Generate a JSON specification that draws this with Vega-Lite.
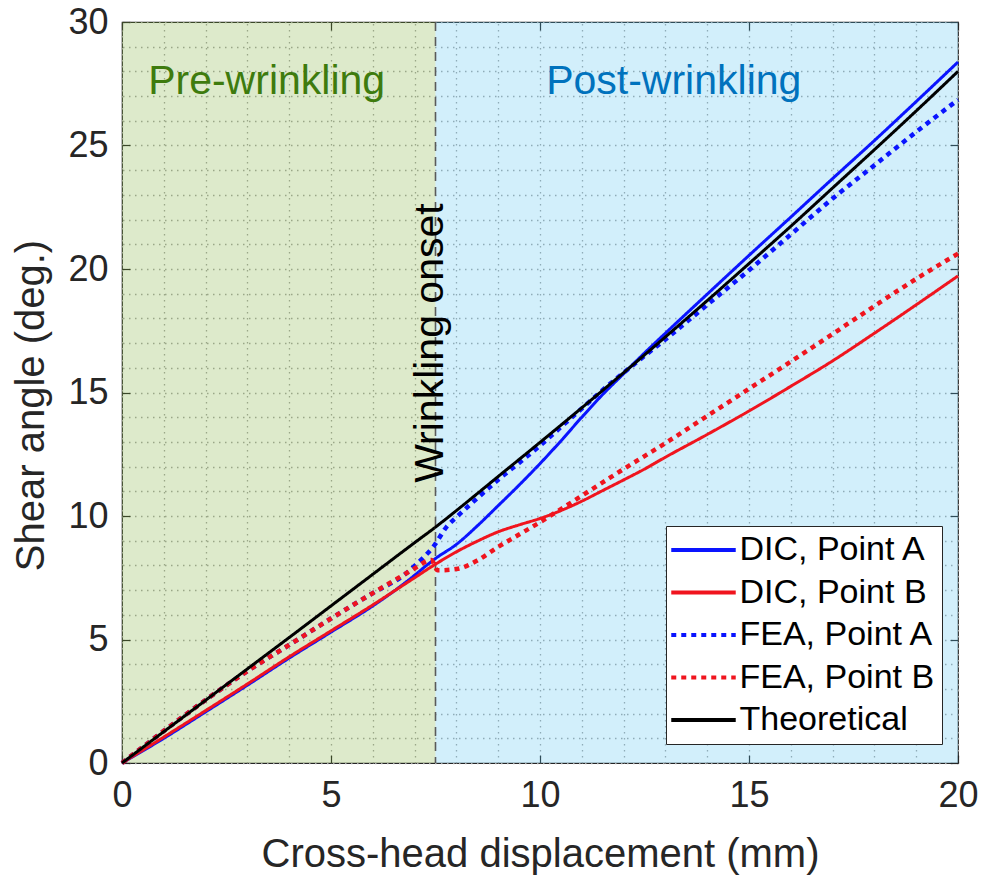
{
  "$schema": "https://vega.github.io/schema/vega-lite/v6.json",
  "autosize": {"type": "none"},
  "width": 836,
  "height": 741,
  "padding": {"left": 122, "top": 22, "right": 27, "bottom": 117},
  "config": {
    "view": {"stroke": "#262626", "strokeWidth": 1.2},
    "font": "Liberation Sans"
  },
  "datasets": {
    "regions": [
      {"region": "pre", "x_start": 0, "x_end": 7.5},
      {"region": "post", "x_start": 7.5, "x_end": 20}
    ],
    "notes": [
      {"kind": "pre", "label": "Pre-wrinkling", "x": 3.46, "y": 27.1},
      {"kind": "post", "label": "Post-wrinkling", "x": 13.2, "y": 27.1},
      {"kind": "onset", "label": "Wrinkling onset", "x": 7.68, "y": 17}
    ],
    "curves": [
      {"series": "DIC, Point A", "x": 0, "y": 0},
      {"series": "DIC, Point A", "x": 1, "y": 1.0},
      {"series": "DIC, Point A", "x": 2, "y": 2.07},
      {"series": "DIC, Point A", "x": 3, "y": 3.15},
      {"series": "DIC, Point A", "x": 4, "y": 4.25},
      {"series": "DIC, Point A", "x": 5, "y": 5.3},
      {"series": "DIC, Point A", "x": 6, "y": 6.36},
      {"series": "DIC, Point A", "x": 6.5, "y": 6.95},
      {"series": "DIC, Point A", "x": 7, "y": 7.6},
      {"series": "DIC, Point A", "x": 7.3, "y": 8.02},
      {"series": "DIC, Point A", "x": 7.5, "y": 8.28},
      {"series": "DIC, Point A", "x": 8, "y": 8.85},
      {"series": "DIC, Point A", "x": 8.5, "y": 9.6},
      {"series": "DIC, Point A", "x": 9, "y": 10.42},
      {"series": "DIC, Point A", "x": 9.5, "y": 11.25},
      {"series": "DIC, Point A", "x": 10, "y": 12.12},
      {"series": "DIC, Point A", "x": 10.5, "y": 13.04},
      {"series": "DIC, Point A", "x": 11, "y": 14.0},
      {"series": "DIC, Point A", "x": 11.5, "y": 14.92},
      {"series": "DIC, Point A", "x": 12, "y": 15.76},
      {"series": "DIC, Point A", "x": 12.5, "y": 16.6},
      {"series": "DIC, Point A", "x": 13, "y": 17.4},
      {"series": "DIC, Point A", "x": 14, "y": 18.98},
      {"series": "DIC, Point A", "x": 15, "y": 20.55},
      {"series": "DIC, Point A", "x": 16, "y": 22.1},
      {"series": "DIC, Point A", "x": 17, "y": 23.66},
      {"series": "DIC, Point A", "x": 18, "y": 25.2},
      {"series": "DIC, Point A", "x": 19, "y": 26.78},
      {"series": "DIC, Point A", "x": 20, "y": 28.38},

      {"series": "DIC, Point B", "x": 0, "y": 0},
      {"series": "DIC, Point B", "x": 1, "y": 1.05},
      {"series": "DIC, Point B", "x": 2, "y": 2.12},
      {"series": "DIC, Point B", "x": 3, "y": 3.2},
      {"series": "DIC, Point B", "x": 4, "y": 4.3},
      {"series": "DIC, Point B", "x": 5, "y": 5.35},
      {"series": "DIC, Point B", "x": 6, "y": 6.4},
      {"series": "DIC, Point B", "x": 6.5, "y": 6.95},
      {"series": "DIC, Point B", "x": 7, "y": 7.5},
      {"series": "DIC, Point B", "x": 7.5, "y": 8.05},
      {"series": "DIC, Point B", "x": 8, "y": 8.55},
      {"series": "DIC, Point B", "x": 8.5, "y": 8.98},
      {"series": "DIC, Point B", "x": 9, "y": 9.36},
      {"series": "DIC, Point B", "x": 9.5, "y": 9.64},
      {"series": "DIC, Point B", "x": 10, "y": 9.9},
      {"series": "DIC, Point B", "x": 10.5, "y": 10.22},
      {"series": "DIC, Point B", "x": 11, "y": 10.6},
      {"series": "DIC, Point B", "x": 11.5, "y": 11.03},
      {"series": "DIC, Point B", "x": 12, "y": 11.46},
      {"series": "DIC, Point B", "x": 12.5, "y": 11.9},
      {"series": "DIC, Point B", "x": 13, "y": 12.38},
      {"series": "DIC, Point B", "x": 14, "y": 13.3},
      {"series": "DIC, Point B", "x": 15, "y": 14.25},
      {"series": "DIC, Point B", "x": 16, "y": 15.25},
      {"series": "DIC, Point B", "x": 17, "y": 16.28},
      {"series": "DIC, Point B", "x": 18, "y": 17.4},
      {"series": "DIC, Point B", "x": 19, "y": 18.55},
      {"series": "DIC, Point B", "x": 20, "y": 19.72},

      {"series": "FEA, Point A", "x": 0, "y": 0},
      {"series": "FEA, Point A", "x": 0.5, "y": 0.65},
      {"series": "FEA, Point A", "x": 1, "y": 1.3},
      {"series": "FEA, Point A", "x": 1.5, "y": 1.93},
      {"series": "FEA, Point A", "x": 2, "y": 2.55},
      {"series": "FEA, Point A", "x": 3, "y": 3.72},
      {"series": "FEA, Point A", "x": 4, "y": 4.78},
      {"series": "FEA, Point A", "x": 5, "y": 5.85},
      {"series": "FEA, Point A", "x": 6, "y": 6.88},
      {"series": "FEA, Point A", "x": 6.8, "y": 7.68},
      {"series": "FEA, Point A", "x": 7, "y": 7.98},
      {"series": "FEA, Point A", "x": 7.2, "y": 8.3},
      {"series": "FEA, Point A", "x": 7.45, "y": 8.76},
      {"series": "FEA, Point A", "x": 7.77, "y": 9.57},
      {"series": "FEA, Point A", "x": 8, "y": 9.95},
      {"series": "FEA, Point A", "x": 8.5, "y": 10.72},
      {"series": "FEA, Point A", "x": 9, "y": 11.47},
      {"series": "FEA, Point A", "x": 9.5, "y": 12.15},
      {"series": "FEA, Point A", "x": 10, "y": 12.85},
      {"series": "FEA, Point A", "x": 10.5, "y": 13.6},
      {"series": "FEA, Point A", "x": 11, "y": 14.35},
      {"series": "FEA, Point A", "x": 11.5, "y": 15.1},
      {"series": "FEA, Point A", "x": 12, "y": 15.8},
      {"series": "FEA, Point A", "x": 12.5, "y": 16.48},
      {"series": "FEA, Point A", "x": 13, "y": 17.15},
      {"series": "FEA, Point A", "x": 14, "y": 18.55},
      {"series": "FEA, Point A", "x": 15, "y": 19.95},
      {"series": "FEA, Point A", "x": 16, "y": 21.4},
      {"series": "FEA, Point A", "x": 17, "y": 22.85},
      {"series": "FEA, Point A", "x": 18, "y": 24.2},
      {"series": "FEA, Point A", "x": 19, "y": 25.55},
      {"series": "FEA, Point A", "x": 20, "y": 26.85},

      {"series": "FEA, Point B", "x": 0, "y": 0},
      {"series": "FEA, Point B", "x": 0.5, "y": 0.65},
      {"series": "FEA, Point B", "x": 1, "y": 1.3},
      {"series": "FEA, Point B", "x": 1.5, "y": 1.93},
      {"series": "FEA, Point B", "x": 2, "y": 2.55},
      {"series": "FEA, Point B", "x": 3, "y": 3.72},
      {"series": "FEA, Point B", "x": 4, "y": 4.78},
      {"series": "FEA, Point B", "x": 5, "y": 5.85},
      {"series": "FEA, Point B", "x": 6, "y": 6.88},
      {"series": "FEA, Point B", "x": 6.8, "y": 7.68},
      {"series": "FEA, Point B", "x": 7, "y": 7.88},
      {"series": "FEA, Point B", "x": 7.4, "y": 8.22},
      {"series": "FEA, Point B", "x": 7.55, "y": 7.8},
      {"series": "FEA, Point B", "x": 8, "y": 7.85},
      {"series": "FEA, Point B", "x": 8.5, "y": 8.2},
      {"series": "FEA, Point B", "x": 9, "y": 8.75},
      {"series": "FEA, Point B", "x": 9.5, "y": 9.25},
      {"series": "FEA, Point B", "x": 10, "y": 9.75},
      {"series": "FEA, Point B", "x": 10.5, "y": 10.28},
      {"series": "FEA, Point B", "x": 11, "y": 10.82},
      {"series": "FEA, Point B", "x": 11.5, "y": 11.36},
      {"series": "FEA, Point B", "x": 12, "y": 11.9},
      {"series": "FEA, Point B", "x": 13, "y": 12.95},
      {"series": "FEA, Point B", "x": 14, "y": 14.05},
      {"series": "FEA, Point B", "x": 15, "y": 15.15},
      {"series": "FEA, Point B", "x": 16, "y": 16.25},
      {"series": "FEA, Point B", "x": 17, "y": 17.37},
      {"series": "FEA, Point B", "x": 18, "y": 18.5},
      {"series": "FEA, Point B", "x": 19, "y": 19.6},
      {"series": "FEA, Point B", "x": 20, "y": 20.62},

      {"series": "Theoretical", "x": 0, "y": 0},
      {"series": "Theoretical", "x": 1, "y": 1.27},
      {"series": "Theoretical", "x": 2, "y": 2.54},
      {"series": "Theoretical", "x": 3, "y": 3.81},
      {"series": "Theoretical", "x": 4, "y": 5.08},
      {"series": "Theoretical", "x": 5, "y": 6.36},
      {"series": "Theoretical", "x": 6, "y": 7.64},
      {"series": "Theoretical", "x": 7, "y": 8.92},
      {"series": "Theoretical", "x": 7.5, "y": 9.55},
      {"series": "Theoretical", "x": 8, "y": 10.22},
      {"series": "Theoretical", "x": 9, "y": 11.6},
      {"series": "Theoretical", "x": 10, "y": 12.98},
      {"series": "Theoretical", "x": 11, "y": 14.38},
      {"series": "Theoretical", "x": 12, "y": 15.8},
      {"series": "Theoretical", "x": 12.5, "y": 16.52},
      {"series": "Theoretical", "x": 13, "y": 17.25},
      {"series": "Theoretical", "x": 14, "y": 18.72},
      {"series": "Theoretical", "x": 15, "y": 20.22},
      {"series": "Theoretical", "x": 16, "y": 21.73},
      {"series": "Theoretical", "x": 17, "y": 23.28},
      {"series": "Theoretical", "x": 18, "y": 24.83},
      {"series": "Theoretical", "x": 19, "y": 26.4},
      {"series": "Theoretical", "x": 20, "y": 28.0}
    ]
  },
  "layer": [
    {
      "layer": [
        {
          "data": {"name": "regions"},
          "transform": [{"filter": "datum.region === 'pre'"}],
          "mark": {"type": "rect", "fill": "#77ac30", "opacity": 0.25},
          "encoding": {
            "x": {
              "field": "x_start", "type": "quantitative",
              "scale": {"domain": [0, 20], "nice": false, "zero": false},
              "title": "Cross-head displacement (mm)",
              "axis": {
                "orient": "bottom",
                "values": [0, 5, 10, 15, 20],
                "grid": false,
                "domain": false,
                "tickSize": -8, "tickColor": "#262626", "tickWidth": 1.2,
                "labelFont": "Liberation Sans", "labelFontSize": 36, "labelColor": "#262626",
                "labelPadding": 23, "labelFlush": false, "labelOverlap": false,
                "titleFont": "Liberation Sans", "titleFontSize": 40, "titleFontWeight": "normal",
                "titleColor": "#262626", "titlePadding": 21
              }
            },
            "x2": {"field": "x_end"},
            "y": {
              "datum": 0, "type": "quantitative",
              "scale": {"domain": [0, 30], "nice": false, "zero": false},
              "title": "Shear angle (deg.)",
              "axis": {
                "orient": "left",
                "values": [0, 5, 10, 15, 20, 25, 30],
                "grid": false,
                "domain": false,
                "tickSize": -8, "tickColor": "#262626", "tickWidth": 1.2,
                "labelFont": "Liberation Sans", "labelFontSize": 36, "labelColor": "#262626",
                "labelPadding": 22, "labelFlush": false, "labelOverlap": false,
                "titleFont": "Liberation Sans", "titleFontSize": 40, "titleFontWeight": "normal",
                "titleColor": "#262626", "titlePadding": 16, "titleY": 383
              }
            },
            "y2": {"datum": 30}
          }
        },
        {
          "data": {"name": "regions"},
          "transform": [{"filter": "datum.region === 'post'"}],
          "mark": {"type": "rect", "fill": "#4dbeee", "opacity": 0.25},
          "encoding": {
            "x": {"field": "x_start", "type": "quantitative", "title": "Cross-head displacement (mm)"},
            "x2": {"field": "x_end"},
            "y": {"datum": 0, "type": "quantitative", "title": "Shear angle (deg.)"},
            "y2": {"datum": 30}
          }
        },
        {
          "data": {"name": "regions"},
          "transform": [{"filter": "datum.region === 'pre'"}],
          "mark": {"type": "rule", "color": "#5a5a5a", "strokeWidth": 1.6, "strokeDash": [9, 6]},
          "encoding": {
            "x": {"field": "x_end", "type": "quantitative", "title": "Cross-head displacement (mm)"}
          }
        },
        {
          "data": {"name": "curves"},
          "transform": [{"filter": "indexof(datum.series, 'DIC') === 0"}],
          "mark": {"type": "line", "interpolate": "monotone", "strokeWidth": 3},
          "encoding": {
            "x": {"field": "x", "type": "quantitative", "title": "Cross-head displacement (mm)"},
            "y": {"field": "y", "type": "quantitative", "title": "Shear angle (deg.)"},
            "color": {
              "field": "series", "type": "nominal",
              "scale": {
                "domain": ["DIC, Point A", "DIC, Point B", "FEA, Point A", "FEA, Point B", "Theoretical"],
                "range": ["#0a14ff", "#f0141e", "#0a14ff", "#f0141e", "#000000"]
              },
              "legend": {
                "orient": "none", "legendX": 544, "legendY": 504,
                "title": null,
                "symbolType": "M-3,0H3", "symbolSize": 462, "symbolStrokeWidth": 4,
                "symbolOffset": 13.5,
                "labelFont": "Liberation Sans", "labelFontSize": 34, "labelColor": "#000000",
                "labelOffset": 19, "labelLimit": 400,
                "fillColor": "#ffffff", "strokeColor": "#262626",
                "padding": 7, "rowPadding": 8.5
              }
            },
            "strokeDash": {
              "field": "series", "type": "nominal",
              "scale": {
                "domain": ["DIC, Point A", "DIC, Point B", "FEA, Point A", "FEA, Point B", "Theoretical"],
                "range": [[1, 0], [1, 0], [5, 5], [5, 5], [1, 0]]
              }
            }
          }
        },
        {
          "data": {"name": "curves"},
          "transform": [{"filter": "indexof(datum.series, 'FEA') === 0"}],
          "mark": {"type": "line", "interpolate": "monotone", "strokeWidth": 4.5},
          "encoding": {
            "x": {"field": "x", "type": "quantitative", "title": "Cross-head displacement (mm)"},
            "y": {"field": "y", "type": "quantitative", "title": "Shear angle (deg.)"},
            "color": {"field": "series", "type": "nominal"},
            "strokeDash": {"field": "series", "type": "nominal"}
          }
        },
        {
          "data": {"name": "curves"},
          "transform": [{"filter": "datum.series === 'Theoretical'"}],
          "mark": {"type": "line", "interpolate": "monotone", "strokeWidth": 3},
          "encoding": {
            "x": {"field": "x", "type": "quantitative", "title": "Cross-head displacement (mm)"},
            "y": {"field": "y", "type": "quantitative", "title": "Shear angle (deg.)"},
            "color": {"field": "series", "type": "nominal"},
            "strokeDash": {"field": "series", "type": "nominal"}
          }
        },
        {
          "data": {"name": "notes"},
          "transform": [{"filter": "datum.kind === 'pre'"}],
          "mark": {"type": "text", "font": "Liberation Sans", "fontSize": 41, "color": "#3e7b0e", "align": "center", "baseline": "alphabetic"},
          "encoding": {
            "x": {"field": "x", "type": "quantitative", "title": "Cross-head displacement (mm)"},
            "y": {"field": "y", "type": "quantitative", "title": "Shear angle (deg.)"},
            "text": {"field": "label"}
          }
        },
        {
          "data": {"name": "notes"},
          "transform": [{"filter": "datum.kind === 'post'"}],
          "mark": {"type": "text", "font": "Liberation Sans", "fontSize": 41, "color": "#0072bd", "align": "center", "baseline": "alphabetic"},
          "encoding": {
            "x": {"field": "x", "type": "quantitative", "title": "Cross-head displacement (mm)"},
            "y": {"field": "y", "type": "quantitative", "title": "Shear angle (deg.)"},
            "text": {"field": "label"}
          }
        },
        {
          "data": {"name": "notes"},
          "transform": [{"filter": "datum.kind === 'onset'"}],
          "mark": {"type": "text", "font": "Liberation Sans", "fontSize": 41, "color": "#000000", "align": "center", "baseline": "alphabetic", "angle": 270},
          "encoding": {
            "x": {"field": "x", "type": "quantitative", "title": "Cross-head displacement (mm)"},
            "y": {"field": "y", "type": "quantitative", "title": "Shear angle (deg.)"},
            "text": {"field": "label"}
          }
        }
      ]
    },
    {
      "data": {"name": "notes"},
      "mark": {"type": "point", "opacity": 0},
      "encoding": {
        "x": {
          "field": "x", "type": "quantitative",
          "axis": {
            "orient": "top",
            "values": [0,1,2,3,4,5,6,7,8,9,10,11,12,13,14,15,16,17,18,19,20],
            "grid": true, "gridColor": "#a6a6a6", "gridDash": [1.5, 4.5], "gridWidth": 1.3,
            "domain": false, "labels": false, "title": null,
            "tickSize": -8, "tickColor": "#262626", "tickWidth": 1.2,
            "tickOpacity": {"condition": {"test": "datum.value % 5 === 0", "value": 1}, "value": 0}
          }
        },
        "y": {
          "field": "y", "type": "quantitative",
          "axis": {
            "orient": "right",
            "values": [0,1,2,3,4,5,6,7,8,9,10,11,12,13,14,15,16,17,18,19,20,21,22,23,24,25,26,27,28,29,30],
            "grid": true, "gridColor": "#a6a6a6", "gridDash": [1.5, 4.5], "gridWidth": 1.3,
            "domain": false, "labels": false, "title": null,
            "tickSize": -8, "tickColor": "#262626", "tickWidth": 1.2,
            "tickOpacity": {"condition": {"test": "datum.value % 5 === 0", "value": 1}, "value": 0}
          }
        }
      }
    }
  ],
  "resolve": {"axis": {"x": "independent", "y": "independent"}}
}
